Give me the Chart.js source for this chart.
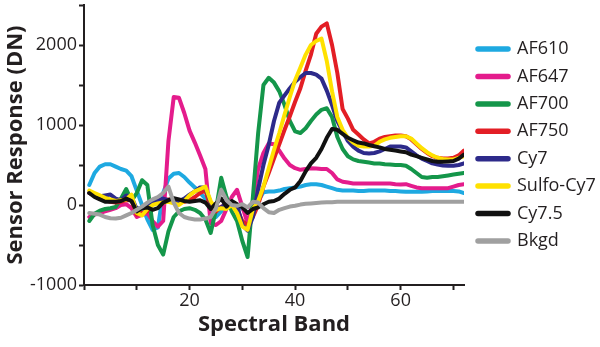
<!DOCTYPE html>
<html>
<head>
<meta charset="utf-8">
<script src="https://cdn.jsdelivr.net/npm/chart.js@4.4.1/dist/chart.umd.min.js"></script>
<style>
  html, body { margin: 0; padding: 0; background: #fff; }
</style>
</head>
<body>
<canvas id="spectra" width="600" height="347"></canvas>
<script>
// spectral band numbers (x)
var bands = [1,2,3,4,5,6,7,8,9,10,11,12,13,14,15,16,17,18,19,20,21,22,23,24,25,26,27,28,29,30,31,32,33,34,35,36,
             37,38,39,40,41,42,43,44,45,46,47,48,49,50,51,52,53,54,55,56,57,58,59,60,61,62,63,64,65,66,67,68,69,70,71,72];

// sensor response (DN) per band
var af610 = [250,400,480,510,510,480,450,430,360,180,0,-180,-310,-280,150,330,390,400,350,280,220,150,80,-50,-150,-80,0,20,0,-50,-100,-50,50,160,170,170,
             180,200,210,220,230,250,260,260,250,230,210,190,180,180,180,175,175,180,180,180,180,175,175,170,165,165,165,165,170,175,175,175,175,175,170,150];
var af647 = [-150,-120,-100,-80,-60,-40,0,10,-40,-150,-120,-100,-200,-270,-200,800,1350,1340,1150,930,780,620,450,-230,-250,-200,-50,100,190,-20,-230,50,450,650,770,760,
             680,580,500,460,440,450,460,455,450,450,400,320,290,280,270,270,270,270,270,270,270,270,260,255,260,240,220,210,210,210,210,210,210,230,250,260];
var af700 = [-200,-110,-70,-50,-40,-25,80,200,50,150,310,250,-250,-500,-620,-330,-150,-80,-50,-40,-60,-100,-180,-350,-60,340,100,-80,-200,-450,-650,100,900,1500,1590,1530,
             1420,1250,1050,920,900,960,1050,1130,1190,1210,1100,850,700,610,570,550,540,530,520,520,510,505,500,500,490,450,400,350,340,350,350,360,370,380,390,400];
var af750 = [150,120,80,60,40,30,40,60,60,-120,-100,-80,20,50,60,70,50,30,40,60,100,150,180,-30,-80,-20,0,30,-50,-200,-250,-150,0,230,400,580,
             760,940,1110,1290,1460,1680,1880,2140,2230,2270,2000,1650,1200,1080,940,880,820,770,790,830,850,860,870,870,860,820,760,700,650,610,590,580,580,590,620,680];
var cy7 = [150,130,110,120,130,80,60,120,100,-50,-30,0,50,60,80,60,40,50,80,130,170,220,220,30,-60,-30,20,30,0,-250,-320,-150,200,500,750,1050,
           1280,1370,1460,1540,1600,1650,1650,1630,1580,1430,1250,1050,920,800,730,680,650,645,650,670,700,730,730,730,720,670,620,580,550,520,505,495,490,490,500,520];
var sulfoCy7 = [180,150,120,90,70,50,60,70,130,-100,-130,-50,0,20,30,40,20,0,50,120,170,200,230,50,-60,-40,-50,0,-100,-270,-310,-50,50,230,460,690,
                900,1130,1350,1560,1720,1880,2000,2050,2080,1800,1420,1100,940,840,780,740,730,730,740,790,820,840,850,860,860,830,770,710,660,620,590,575,570,570,590,610];
var cy75 = [150,100,70,40,40,40,50,80,50,-80,-40,-30,-60,-40,30,60,85,70,50,40,50,60,30,-50,20,80,-20,50,10,-30,-100,-50,-30,10,40,50,
            80,140,190,220,300,420,520,590,700,840,950,940,890,840,810,780,770,750,735,720,700,690,680,670,660,630,610,590,570,550,540,540,545,550,580,630];
var bkgd = [-100,-110,-120,-150,-165,-170,-160,-130,-100,-60,-20,30,70,100,150,230,30,-100,-150,-170,-180,-180,-170,-150,-40,190,60,0,-10,10,-30,40,30,-40,-90,-100,
            -60,-40,-20,-10,5,15,20,25,30,35,35,40,40,40,40,40,40,40,40,40,40,40,40,40,40,40,40,40,40,40,40,40,40,40,40,40];

var seriesNames = ['AF610','AF647','AF700','AF750','Cy7','Sulfo-Cy7','Cy7.5','Bkgd'];
var seriesValues = [af610, af647, af700, af750, cy7, sulfoCy7, cy75, bkgd];
var seriesColors = ['#1ea9e1','#e41c8c','#14964a','#e31e25','#2d2a8a','#ffe100','#111111','#a0a0a0'];

var xTickLabels = [20, 40, 60];
var yTickLabels = [-1000, 0, 1000, 2000];

var ink = '#231f20';
var fontName = 'Open Sans';

var datasets = seriesNames.map(function (name, i) {
    return {
        label: name,
        data: seriesValues[i],
        borderColor: seriesColors[i],
        backgroundColor: seriesColors[i],
        borderWidth: 4,
        pointRadius: 0,
        pointStyle: 'line',
        borderCapStyle: 'round',
        borderJoinStyle: 'round',
        tension: 0,
        fill: false,
        order: seriesNames.length - 1 - i   // later series drawn on top
    };
});

var ctx = document.getElementById('spectra').getContext('2d');
var chart = new Chart(ctx, {
    type: 'line',
    data: { labels: bands, datasets: datasets },
    options: {
        responsive: false,
        animation: false,
        layout: { padding: { top: 5, left: 0, right: 0, bottom: 0 } },
        plugins: {
            tooltip: { enabled: false },
            legend: {
                position: 'right',
                reverse: true,
                fullSize: false,
                maxWidth: 131.4,
                labels: {
                    usePointStyle: true,
                    pointStyleWidth: 30,
                    boxHeight: 4,
                    padding: 9.4,
                    color: ink,
                    font: { family: fontName, size: 18 },
                    generateLabels: function (c) {
                        return Chart.defaults.plugins.legend.labels.generateLabels(c).map(function (item) {
                            item.lineCap = 'round';
                            item.lineWidth = 5.5;
                            return item;
                        });
                    }
                }
            }
        },
        scales: {
            x: {
                type: 'linear',
                min: 0,
                max: 72,
                afterFit: function (s) { s.height = 62; s.paddingLeft = 0; s.paddingRight = 0; },
                ticks: {
                    stepSize: 10,
                    includeBounds: false,
                    autoSkip: false,
                    maxRotation: 0,
                    padding: 0,
                    color: ink,
                    font: { family: fontName, size: 18 },
                    callback: function (v) { return xTickLabels.indexOf(v) >= 0 ? String(v) : ''; }
                },
                grid: { drawOnChartArea: false, tickLength: 5, tickWidth: 2, tickColor: ink },
                border: { color: ink, width: 2 },
                title: {
                    display: true,
                    text: 'Spectral Band',
                    color: ink,
                    font: { family: fontName, size: 22, weight: 'bold' },
                    padding: { top: 0, bottom: 9 }
                }
            },
            y: {
                min: -1000,
                max: 2500,
                afterFit: function (s) { s.width = 84; s.paddingTop = 0; s.paddingBottom = 0; },
                ticks: {
                    stepSize: 500,
                    autoSkip: false,
                    padding: 2,
                    color: ink,
                    font: { family: fontName, size: 18 },
                    callback: function (v) { return yTickLabels.indexOf(v) >= 0 ? String(v) : ''; }
                },
                grid: { drawOnChartArea: false, tickLength: 5, tickWidth: 2, tickColor: ink },
                border: { color: ink, width: 2 },
                title: {
                    display: true,
                    text: 'Sensor Response (DN)',
                    color: ink,
                    font: { family: fontName, size: 22, weight: 'bold' },
                    padding: { top: 3, bottom: 0 }
                }
            },
            // empty spacer between plot and legend
            gap: {
                type: 'linear',
                position: 'right',
                afterFit: function (s) { s.width = 4.6; },
                grid: { display: false },
                border: { display: false },
                ticks: { display: false }
            }
        }
    }
});
</script>
</body>
</html>
